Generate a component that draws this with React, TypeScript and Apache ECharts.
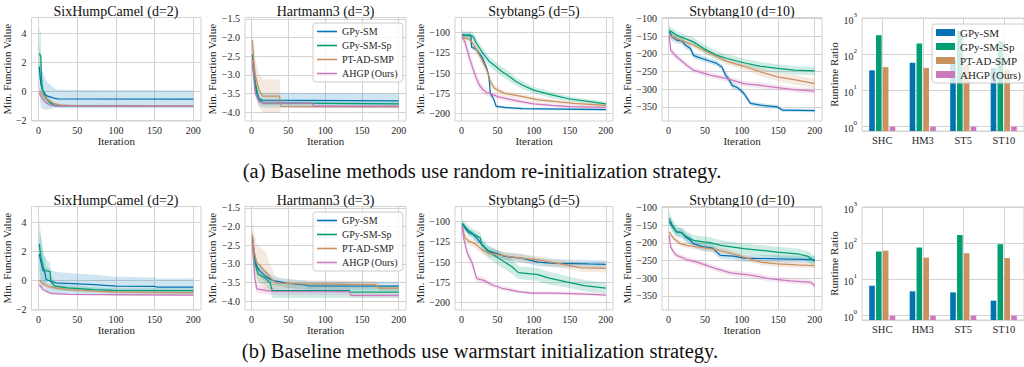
import { useEffect, useRef } from 'react';
import * as echarts from 'echarts';

// ---------------- data ----------------
const METHODS = ['GPy-SM', 'GPy-SM-Sp', 'PT-AD-SMP', 'AHGP (Ours)'];
const BENCH_CODES = ['SHC', 'HM3', 'ST5', 'ST10'];
const PANEL_TITLES = ['SixHumpCamel (d=2)', 'Hartmann3 (d=3)', 'Stybtang5 (d=5)', 'Stybtang10 (d=10)'];
const CAPTIONS = [
  '(a) Baseline methods use random re-initialization strategy.',
  '(b) Baseline methods use warmstart initialization strategy.',
];
const X_TICKS = [0, 50, 100, 150, 200];
const Y_TICKS_SHC = [-2, 0, 2, 4];
const Y_TICKS_HM3 = [-4, -3.5, -3, -2.5, -2, -1.5];
const Y_TICKS_ST5 = [-200, -175, -150, -125, -100];
const Y_TICKS_ST10 = [-350, -300, -250, -200, -150, -100];

// Runtime ratio per benchmark [SHC, HM3, ST5, ST10]
const RAND_RT_GPYSM = [36, 58, 67, 42];
const RAND_RT_GPYSMSP = [336, 198, 436, 230];
const RAND_RT_PTAD = [44, 42, 52, 38];
const RAND_RT_AHGP = [1, 1, 1, 1];
const WARM_RT_GPYSM = [6.7, 4.7, 4.4, 2.6];
const WARM_RT_GPYSMSP = [59, 76, 169, 94];
const WARM_RT_PTAD = [62, 40, 53, 39];
const WARM_RT_AHGP = [1, 1, 1, 1];

// Convergence curves: [iteration, mean min. function value, band half-width]
type Pt = [number, number, number];
const RAND_SHC_GPYSM: Pt[] = [[1, 1.7, 1.8], [3, 0.5, 1.6], [5, 0.1, 1.3], [10, -0.3, 1.0], [20, -0.48, 0.7], [25, -0.53, 0.64], [200, -0.55, 0.62]];
const RAND_SHC_GPYSMSP: Pt[] = [[1, 2.6, 1.8], [3, 2.4, 1.6], [4, 0.9, 1.0], [5, 0.1, 0.6], [10, -0.5, 0.3], [15, -0.8, 0.2], [20, -0.95, 0.12], [25, -1.0, 0.08], [200, -1.02, 0.06]];
const RAND_SHC_PTAD: Pt[] = [[1, 0.0, 0.2], [5, -0.2, 0.2], [10, -0.5, 0.15], [20, -0.85, 0.1], [30, -0.95, 0.06], [50, -1.0, 0.04], [200, -1.02, 0.03]];
const RAND_SHC_AHGP: Pt[] = [[1, -0.15, 0.15], [5, -0.5, 0.15], [10, -0.8, 0.1], [15, -0.95, 0.08], [20, -1.0, 0.05], [200, -1.03, 0.03]];

const RAND_HM3_GPYSM: Pt[] = [[1, -2.6, 0.3], [3, -3.0, 0.3], [5, -3.3, 0.25], [8, -3.55, 0.2], [10, -3.65, 0.2], [15, -3.68, 0.2], [200, -3.7, 0.2]];
const RAND_HM3_GPYSMSP: Pt[] = [[1, -2.45, 0.3], [3, -2.85, 0.3], [5, -3.2, 0.25], [8, -3.5, 0.15], [10, -3.65, 0.1], [15, -3.75, 0.06], [200, -3.78, 0.05]];
const RAND_HM3_PTAD: Pt[] = [[1, -2.07, 0.55], [3, -2.6, 0.5], [5, -3.0, 0.45], [10, -3.4, 0.45], [15, -3.57, 0.45], [38, -3.57, 0.45], [40, -3.85, 0.04], [200, -3.86, 0.03]];
const RAND_HM3_AHGP: Pt[] = [[1, -2.6, 0.2], [3, -3.1, 0.15], [5, -3.5, 0.1], [10, -3.72, 0.06], [15, -3.75, 0.05], [82, -3.76, 0.04], [85, -3.84, 0.03], [200, -3.84, 0.03]];

const RAND_ST5_GPYSM: Pt[] = [[1, -103, 3], [13, -103, 3], [14, -118, 3], [20, -120, 3], [24, -125, 3], [29, -131, 3], [35, -144, 3], [38, -154, 3], [40, -175, 3], [45, -183, 2], [48, -191, 2], [60, -192.5, 1.5], [85, -194, 1.5], [200, -195, 1.5]];
const RAND_ST5_GPYSMSP: Pt[] = [[1, -103, 5], [15, -104, 5], [17, -106, 5], [20, -112, 6], [25, -119, 6], [30, -126, 6], [38, -135, 6], [45, -140, 6], [56, -148, 6], [66, -154, 6], [75, -160, 5], [85, -165, 5], [100, -171, 4], [125, -177, 4], [150, -182, 3], [175, -185, 3], [200, -188, 3]];
const RAND_ST5_PTAD: Pt[] = [[1, -105, 3], [10, -108, 4], [15, -112, 5], [20, -120, 5], [25, -128, 5], [30, -137, 5], [35, -146, 5], [40, -160, 5], [45, -168, 4], [50, -171, 4], [60, -175, 3], [85, -179, 3], [107, -183, 3], [155, -187.5, 2], [200, -190, 2]];
const RAND_ST5_AHGP: Pt[] = [[1, -105, 5], [5, -112, 7], [10, -128, 8], [15, -142, 8], [20, -155, 7], [25, -165, 6], [30, -171, 5], [35, -174, 4], [42, -176, 4], [50, -179, 3], [75, -184, 3], [100, -188, 2], [125, -190, 2], [150, -191.5, 2], [200, -192.5, 2]];

const RAND_ST10_GPYSM: Pt[] = [[1, -137, 15], [5, -152, 12], [11, -161, 10], [18, -163, 10], [23, -175, 10], [30, -185, 10], [34, -204, 10], [41, -210, 8], [53, -218, 8], [66, -227, 8], [73, -237, 8], [78, -260, 10], [82, -270, 10], [87, -289, 10], [94, -295, 8], [101, -307, 8], [105, -317, 8], [112, -340, 6], [126, -345, 6], [149, -350, 6], [156, -359, 5], [200, -360, 5]];
const RAND_ST10_GPYSMSP: Pt[] = [[1, -133, 12], [11, -147, 12], [34, -166, 12], [48, -185, 12], [66, -204, 12], [80, -213, 12], [103, -225, 12], [126, -235, 12], [149, -241, 12], [172, -246, 12], [200, -248, 12]];
const RAND_ST10_PTAD: Pt[] = [[1, -147, 10], [11, -157, 8], [34, -175, 8], [57, -199, 8], [80, -221, 10], [103, -235, 10], [126, -251, 12], [149, -265, 12], [172, -273, 14], [200, -284, 14]];
const RAND_ST10_AHGP: Pt[] = [[1, -150, 10], [3, -190, 10], [11, -208, 8], [25, -232, 8], [34, -246, 8], [57, -260, 8], [80, -270, 8], [103, -284, 8], [126, -289, 8], [149, -295, 8], [172, -301, 8], [200, -305, 8]];

const WARM_SHC_GPYSM: Pt[] = [[1, 1.8, 1.6], [3, 1.3, 1.8], [6, 0.66, 1.2], [8, 0.6, 1.0], [10, 0.05, 0.9], [16, -0.07, 0.8], [23, -0.18, 0.75], [51, -0.25, 0.7], [72, -0.3, 0.68], [100, -0.41, 0.65], [150, -0.43, 0.62], [154, -0.48, 0.6], [200, -0.47, 0.6]];
const WARM_SHC_GPYSMSP: Pt[] = [[1, 2.5, 1.8], [3, 1.64, 1.5], [7, 0.73, 1.0], [12, 0.62, 0.7], [15, 0.6, 0.6], [16, -0.07, 0.4], [21, -0.41, 0.25], [38, -0.52, 0.2], [72, -0.64, 0.15], [98, -0.7, 0.15], [200, -0.71, 0.15]];
const WARM_SHC_PTAD: Pt[] = [[1, 0.0, 0.2], [6, -0.25, 0.2], [16, -0.48, 0.15], [38, -0.64, 0.12], [72, -0.75, 0.1], [100, -0.82, 0.1], [200, -0.87, 0.08]];
const WARM_SHC_AHGP: Pt[] = [[1, -0.3, 0.2], [6, -0.64, 0.15], [16, -0.91, 0.08], [38, -0.98, 0.05], [200, -1.03, 0.04]];

const WARM_HM3_GPYSM: Pt[] = [[1, -2.27, 0.25], [4, -2.88, 0.2], [7, -3.06, 0.18], [11, -3.19, 0.15], [20, -3.35, 0.15], [29, -3.45, 0.12], [38, -3.48, 0.12], [47, -3.52, 0.12], [75, -3.57, 0.12], [77, -3.59, 0.12], [200, -3.6, 0.12]];
const WARM_HM3_GPYSMSP: Pt[] = [[1, -2.4, 0.3], [5, -3.01, 0.25], [9, -3.28, 0.2], [16, -3.35, 0.2], [20, -3.41, 0.2], [25, -3.5, 0.2], [28, -3.72, 0.2], [133, -3.72, 0.2], [135, -3.76, 0.15], [200, -3.76, 0.15]];
const WARM_HM3_PTAD: Pt[] = [[1, -2.22, 0.5], [4, -2.7, 0.5], [7, -2.97, 0.5], [14, -3.1, 0.5], [20, -3.23, 0.55], [25, -3.37, 0.35], [34, -3.52, 0.12], [65, -3.54, 0.1], [169, -3.56, 0.1], [174, -3.65, 0.08], [200, -3.65, 0.08]];
const WARM_HM3_AHGP: Pt[] = [[1, -2.4, 0.25], [4, -3.32, 0.2], [7, -3.67, 0.12], [20, -3.72, 0.1], [29, -3.74, 0.1], [133, -3.745, 0.1], [135, -3.85, 0.06], [200, -3.85, 0.06]];

const WARM_ST5_GPYSM: Pt[] = [[1, -103, 4], [10, -113.5, 4], [15, -115, 4], [21, -120, 5], [28, -128, 5], [37, -136, 5], [47, -139, 5], [60, -143, 5], [83, -145, 5], [106, -150, 5], [129, -151.5, 5], [175, -152.3, 5], [200, -152.7, 5]];
const WARM_ST5_GPYSMSP: Pt[] = [[1, -102, 6], [10, -111, 6], [17, -115.6, 6], [26, -120, 7], [28, -128, 8], [37, -136.7, 8], [51, -145, 9], [70, -155.7, 9], [79, -163, 8], [106, -165.4, 8], [120, -169.6, 8], [147, -174.7, 7], [170, -179, 7], [200, -182.3, 7]];
const WARM_ST5_PTAD: Pt[] = [[1, -106, 3], [5, -120, 5], [10, -124, 5], [19, -127.4, 5], [28, -134.6, 5], [37, -138.8, 5], [56, -141.8, 5], [83, -145, 5], [106, -147.3, 5], [134, -151.5, 5], [147, -153.6, 5], [166, -157, 5], [200, -157.8, 5]];
const WARM_ST5_AHGP: Pt[] = [[1, -106.3, 3], [3, -120, 5], [8, -138.8, 6], [15, -151.5, 6], [21, -170.5, 4], [31, -172.6, 4], [42, -178, 3], [56, -182.3, 3], [79, -186.5, 2], [97, -188.2, 2], [129, -188.2, 2], [175, -189.5, 2], [200, -190.7, 2]];

const WARM_ST10_GPYSM: Pt[] = [[1, -140, 12], [7, -159, 12], [11, -168.7, 12], [18, -170.6, 12], [23, -183, 12], [30, -192.6, 12], [34, -202, 12], [48, -211.6, 12], [60, -214.5, 12], [66, -226, 12], [71, -235.5, 10], [89, -237.4, 10], [103, -243, 10], [149, -245, 10], [200, -247, 10]];
const WARM_ST10_GPYSMSP: Pt[] = [[1, -130.5, 20], [5, -149.6, 18], [11, -168.7, 15], [18, -171.6, 15], [25, -183, 15], [34, -192.6, 15], [48, -197, 15], [57, -199, 15], [71, -207, 15], [103, -216.4, 15], [126, -221, 15], [149, -226, 15], [176, -230.7, 15], [190, -237.4, 15], [200, -252.7, 15]];
const WARM_ST10_PTAD: Pt[] = [[1, -168.7, 8], [7, -187.8, 8], [16, -202, 8], [25, -207, 8], [39, -211.6, 8], [57, -216.4, 8], [80, -226, 8], [103, -240, 8], [126, -254.6, 8], [149, -259.4, 8], [176, -262.2, 8], [200, -264, 8]];
const WARM_ST10_AHGP: Pt[] = [[1, -178, 8], [3, -211.6, 8], [7, -226, 8], [11, -235.5, 8], [25, -247, 8], [39, -254.6, 8], [53, -264, 8], [66, -273.7, 8], [85, -285, 8], [112, -290.8, 8], [140, -302, 8], [167, -307, 8], [195, -311.8, 8], [200, -321.4, 8]];

// ---------------- layout & style ----------------
const FONT = 'Liberation Serif';
const TXT = '#262626';
const GRID_C = '#d3d3d3';
const COLORS = ['#0173b2', '#029e73', '#ca9161', '#cc78bc'];
const PANEL_LEFT = [31, 245, 455, 662];
const PANEL_WIDTH = [170, 161, 158, 160];
const Y_NAME_GAP = [15, 22, 23, 23];
const ROW_TOP = [17.5, 206.5];
const PLOT_H = 103.5;
const X_RANGE = [-8.95, 209.95];
const Y_RANGES = [[-2.05, 5.08], [-4.24, -1.46], [-209.2, -81.25], [-389.6, -97.2]];
const BAR_LEFT = 862;
const BAR_W = 165;
const BAR_TOP = [18, 207];
const BAR_H = 113;
const CAPTION_POS = [[482, 170.5], [480, 350.5]];

const minus = (v: number, d: number) => (v < 0 ? '\u2212' : '') + Math.abs(v).toFixed(d);

export default function App() {
  const ref = useRef<HTMLDivElement>(null);
  useEffect(() => {
    if (!ref.current) return;
    const chart = echarts.init(ref.current, undefined, { renderer: 'svg' });

    const curves: Pt[][][][] = [
      [
        [RAND_SHC_GPYSM, RAND_SHC_GPYSMSP, RAND_SHC_PTAD, RAND_SHC_AHGP],
        [RAND_HM3_GPYSM, RAND_HM3_GPYSMSP, RAND_HM3_PTAD, RAND_HM3_AHGP],
        [RAND_ST5_GPYSM, RAND_ST5_GPYSMSP, RAND_ST5_PTAD, RAND_ST5_AHGP],
        [RAND_ST10_GPYSM, RAND_ST10_GPYSMSP, RAND_ST10_PTAD, RAND_ST10_AHGP],
      ],
      [
        [WARM_SHC_GPYSM, WARM_SHC_GPYSMSP, WARM_SHC_PTAD, WARM_SHC_AHGP],
        [WARM_HM3_GPYSM, WARM_HM3_GPYSMSP, WARM_HM3_PTAD, WARM_HM3_AHGP],
        [WARM_ST5_GPYSM, WARM_ST5_GPYSMSP, WARM_ST5_PTAD, WARM_ST5_AHGP],
        [WARM_ST10_GPYSM, WARM_ST10_GPYSMSP, WARM_ST10_PTAD, WARM_ST10_AHGP],
      ],
    ];
    const runtimes = [
      [RAND_RT_GPYSM, RAND_RT_GPYSMSP, RAND_RT_PTAD, RAND_RT_AHGP],
      [WARM_RT_GPYSM, WARM_RT_GPYSMSP, WARM_RT_PTAD, WARM_RT_AHGP],
    ];
    const yTicks = [Y_TICKS_SHC, Y_TICKS_HM3, Y_TICKS_ST5, Y_TICKS_ST10];
    const yDec = [0, 1, 0, 0];

    const grids: any[] = [];
    const xAxes: any[] = [];
    const yAxes: any[] = [];
    const series: any[] = [];
    const graphics: any[] = [];
    const legends: any[] = [];

    const tickLabel = { fontFamily: FONT, fontSize: 10, color: TXT };
    const nameStyle = { fontFamily: FONT, fontSize: 11, color: TXT };

    for (let r = 0; r < 2; r++) {
      for (let p = 0; p < 4; p++) {
        const gi = grids.length;
        grids.push({
          left: PANEL_LEFT[p], top: ROW_TOP[r], width: PANEL_WIDTH[p], height: PLOT_H,
          show: true, borderColor: GRID_C, borderWidth: 1, backgroundColor: 'transparent',
        });
        xAxes.push({
          gridIndex: gi, type: 'value', min: X_RANGE[0], max: X_RANGE[1],
          axisLine: { show: false },
          axisTick: { show: false, customValues: X_TICKS },
          axisLabel: { ...tickLabel, margin: 4, customValues: X_TICKS, formatter: (v: number) => String(v) },
          splitLine: { show: true, lineStyle: { color: GRID_C, width: 1 } },
          name: 'Iteration', nameLocation: 'middle', nameGap: 9.5, nameTextStyle: nameStyle,
        });
        const dec = yDec[p];
        yAxes.push({
          gridIndex: gi, type: 'value', min: Y_RANGES[p][0], max: Y_RANGES[p][1],
          axisLine: { show: false },
          axisTick: { show: false, customValues: yTicks[p] },
          axisLabel: { ...tickLabel, margin: 5, customValues: yTicks[p], formatter: (v: number) => minus(v, dec) },
          splitLine: { show: true, lineStyle: { color: GRID_C, width: 1 } },
          name: 'Min. Function Value', nameLocation: 'middle', nameGap: Y_NAME_GAP[p], nameTextStyle: nameStyle,
        });
        const sets = curves[r][p];
        sets.forEach((pts, m) => {
          const color = COLORS[m];
          series.push({
            type: 'custom', xAxisIndex: gi, yAxisIndex: gi, silent: true, z: 1, clip: true,
            data: pts.map(([x, v, h]) => [x, v - h, v + h]),
            encode: { x: 0, y: [1, 2] },
            renderItem: (params: any, api: any) => {
              if (params.dataIndex !== 0) return null;
              const upper = pts.map(([x, v, h]) => api.coord([x, v + h]));
              const lower = pts.map(([x, v, h]) => api.coord([x, v - h])).reverse();
              return {
                type: 'polygon', shape: { points: upper.concat(lower) },
                style: { fill: color, opacity: 0.19 },
              };
            },
          });
        });
        sets.forEach((pts, m) => {
          const color = COLORS[m];
          series.push({
            type: 'line', name: METHODS[m], xAxisIndex: gi, yAxisIndex: gi, silent: true, z: 3,
            data: pts.map(([x, v]) => [x, v]), symbol: 'none', showSymbol: false,
            lineStyle: { width: 1.25, color }, itemStyle: { color }, clip: true,
          });
        });
        graphics.push({
          type: 'text', x: PANEL_LEFT[p] + PANEL_WIDTH[p] / 2, y: ROW_TOP[r] - 6,
          style: { text: PANEL_TITLES[p], fontFamily: FONT, fontSize: 14, fill: '#111', align: 'center', verticalAlign: 'middle' },
        });
      }

      // runtime bar panel
      const bi = grids.length;
      grids.push({
        left: BAR_LEFT, top: BAR_TOP[r], width: BAR_W, height: BAR_H,
        show: true, borderColor: GRID_C, borderWidth: 1, backgroundColor: 'transparent',
      });
      xAxes.push({
        gridIndex: bi, type: 'category', data: BENCH_CODES,
        axisLine: { show: false }, axisTick: { show: false, alignWithLabel: true },
        axisLabel: { ...tickLabel, fontSize: 10.5, margin: 4 },
        splitLine: { show: true, alignWithLabel: true, lineStyle: { color: GRID_C, width: 1 } },
      });
      yAxes.push({
        gridIndex: bi, type: 'log', logBase: 10, min: 0.76, max: 1000, startValue: 0.76,
        axisLine: { show: false }, axisTick: { show: false },
        axisLabel: {
          ...tickLabel, margin: 5,
          formatter: (v: number) => {
            const e = Math.log10(v);
            const k = Math.round(e);
            if (Math.abs(e - k) > 1e-6) return '';
            return '{b|10}{s|' + k + '}';
          },
          rich: {
            b: { fontFamily: FONT, fontSize: 10, color: TXT, lineHeight: 14, verticalAlign: 'bottom' },
            s: { fontFamily: FONT, fontSize: 7, color: TXT, lineHeight: 8, verticalAlign: 'top' },
          },
        },
        splitLine: { show: true, lineStyle: { color: GRID_C, width: 1 } },
        name: 'Runtime Ratio', nameLocation: 'middle', nameGap: 17, nameTextStyle: nameStyle,
      });
      runtimes[r].forEach((vals, m) => {
        series.push({
          type: 'bar', name: METHODS[m], xAxisIndex: bi, yAxisIndex: bi, silent: true, z: 2,
          data: vals, barWidth: 5.6, barGap: '22%',
          itemStyle: { color: COLORS[m] },
        });
      });

      graphics.push({
        type: 'text', x: CAPTION_POS[r][0], y: CAPTION_POS[r][1],
        style: { text: CAPTIONS[r], fontFamily: FONT, fontSize: 20.5, fill: '#111', align: 'center', verticalAlign: 'middle' },
      });

      legends.push({
        data: METHODS, orient: 'vertical', left: 313, top: ROW_TOP[r] + 5.5,
        icon: 'rect', itemWidth: 20, itemHeight: 1.6, itemGap: 3,
        padding: [3, 5, 3, 4], backgroundColor: 'rgba(255,255,255,0.8)',
        borderColor: '#cccccc', borderWidth: 1, borderRadius: 3,
        itemStyle: { borderWidth: 0 }, lineStyle: { width: 0 },
        textStyle: { fontFamily: FONT, fontSize: 10, color: TXT, lineHeight: 11 },
        selectedMode: false,
      });
    }

    legends.push({
      data: METHODS, orient: 'vertical', left: 932, top: 24,
      icon: 'rect', itemWidth: 19, itemHeight: 7, itemGap: 3,
      padding: [3, 4, 3, 4], backgroundColor: 'rgba(255,255,255,0.8)',
      borderColor: '#cccccc', borderWidth: 1, borderRadius: 3,
      itemStyle: { borderWidth: 0 },
      textStyle: { fontFamily: FONT, fontSize: 11, color: TXT, lineHeight: 11 },
      selectedMode: false,
    });

    chart.setOption({
      animation: false,
      backgroundColor: '#ffffff',
      textStyle: { fontFamily: FONT },
      grid: grids,
      xAxis: xAxes,
      yAxis: yAxes,
      legend: legends,
      series,
      graphic: graphics,
    });
    return () => chart.dispose();
  }, []);
  return <div ref={ref} style={{ position: 'absolute', left: 0, top: 0, width: 1024, height: 367 }} />;
}
